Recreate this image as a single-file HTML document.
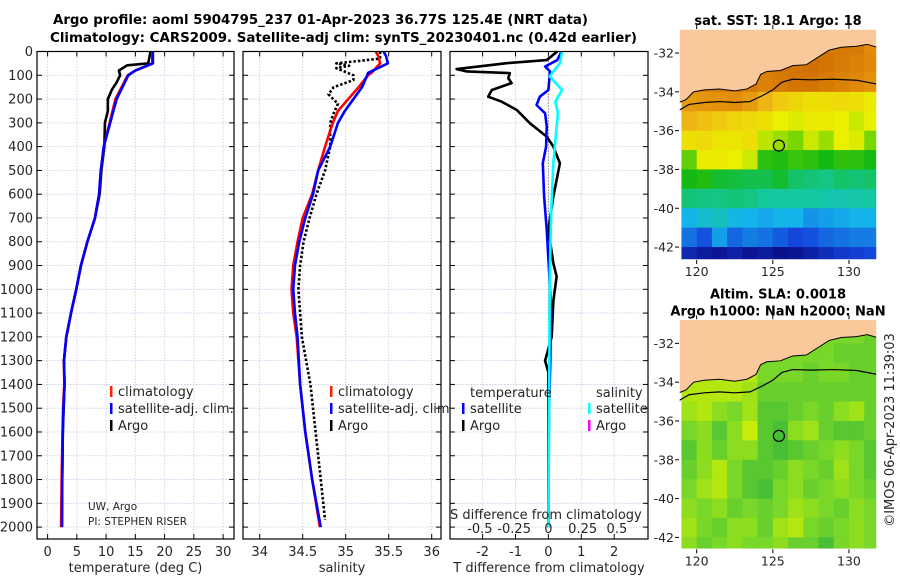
<!DOCTYPE html>
<html><head><meta charset="utf-8"><style>
html,body{margin:0;padding:0;background:#fff;}
svg{display:block;font-family:"DejaVu Sans","Liberation Sans",sans-serif;}
</style></head><body>
<svg id="fig" width="900" height="580" viewBox="0 0 900 580" xmlns="http://www.w3.org/2000/svg">
<g id="titles" font-weight="bold" font-size="13.5" fill="#000">
<text x="53" y="24" textLength="535" lengthAdjust="spacingAndGlyphs">Argo profile: aoml 5904795_237 01-Apr-2023 36.77S 125.4E (NRT data)</text>
<text x="50" y="42" textLength="587" lengthAdjust="spacingAndGlyphs">Climatology: CARS2009. Satellite-adj clim: synTS_20230401.nc (0.42d earlier)</text>
</g>
</svg>
<script>
// ---------- data ----------
const depthGrid = [0,100,200,300,400,500,600,700,800,900,1000,1100,1200,1300,1400,1500,1600,1700,1800,1900,2000];
const tempDepthSat = [0,50,80,100,200,300,400,500,600,700,800,900,1000,1100,1200,1300,1400,1500,1600,1800,2000];
const tempSat = [18.0,18.0,15.0,13.8,11.8,10.7,9.6,9.1,8.8,8.1,6.8,5.7,4.9,4.0,3.2,2.8,2.9,2.7,2.6,2.5,2.45];
const tempClim = [17.9,17.9,15.0,13.7,11.6,10.6,9.6,9.1,8.8,8.1,6.8,5.7,4.9,4.0,3.2,2.8,2.85,2.65,2.55,2.4,2.3];
const tempDepthArgo = [0,50,58,80,100,130,160,200,250,300,400,500,600,700,800,900,1000,1100,1200,1300,1400,1600,1800,2000];
const tempArgo = [17.6,17.2,13.6,12.2,12.4,11.8,11.0,10.3,10.3,9.8,9.7,9.2,8.9,8.1,6.8,5.7,4.9,4.0,3.2,2.8,2.9,2.6,2.5,2.45];
const salDepthSat = [0,20,50,90,100,150,200,250,300,400,500,600,700,800,900,1000,1100,1200,1400,1600,1800,2000];
const salSat = [35.44,35.47,35.49,35.26,35.25,35.19,35.09,34.99,34.91,34.82,34.68,34.62,34.53,34.46,34.41,34.39,34.41,34.44,34.47,34.53,34.61,34.71];
const salClim = [35.35,35.38,35.40,35.30,35.26,35.15,35.03,34.91,34.85,34.76,34.68,34.61,34.50,34.44,34.39,34.37,34.39,34.43,34.47,34.53,34.61,34.70];
const salDepthArgo = [0,30,50,60,70,100,120,150,180,220,260,300,400,500,600,700,800,900,1000,1200,1400,1600,1800,1970];
const salArgo = [35.40,35.40,34.89,35.04,34.89,35.09,35.09,34.86,34.80,34.91,34.86,34.82,34.82,34.76,34.66,34.58,34.51,34.47,34.45,34.49,34.59,34.65,34.71,34.76];
const dDepthSatT = [0,36,63,84,162,190,225,260,315,400,470,610,750,946,1100,1300,1500,1700,2000];
const dTSat = [0.40,0.27,-0.10,0.05,0.0,-0.26,-0.36,-0.10,-0.05,-0.07,-0.17,-0.13,-0.05,0.03,0.08,0.06,0.02,0.01,0.0];
const dDepthSatS = [0,49,84,105,162,211,260,316,470,680,946,1200,1500,2000];
const dSSat = [0.10,0.085,0.036,0.01,0.10,0.05,0.07,0.06,0.036,0.02,0.01,0.008,0.005,0.0];
const dDepthArgoT = [0,36,49,74,84,91,112,133,162,190,211,246,302,358,400,470,540,610,750,890,946,1050,1200,1300,1350,1500,1800,2000];
const dTArgo = [0.27,-0.05,-1.27,-2.79,-2.48,-1.17,-1.22,-1.12,-1.72,-1.83,-1.42,-0.96,-0.56,-0.05,0.15,0.35,0.25,0.15,0.0,0.15,0.25,0.15,0.1,-0.1,0.0,0.0,0.0,0.0];
const depthTicks = [0,100,200,300,400,500,600,700,800,900,1000,1100,1200,1300,1400,1500,1600,1700,1800,1900,2000];
const tempTicks = [0,5,10,15,20,25,30];
const salTicks = [34,34.5,35,35.5,36];
const salTickLabels = ["34","34.5","35","35.5","36"];
const dTTicks = [-2,-1,0,1,2];
const dSTicks = [-0.5,-0.25,0,0.25,0.5];
const dSTickLabels = ["-0.5","-0.25","0","0.25","0.5"];
const mapLatTicks = [-32,-34,-36,-38,-40,-42];
const mapLonTicks = [120,125,130];
const mapLatRows = [-31.5,-32.5,-33.5,-34.5,-35.5,-36.5,-37.5,-38.5,-39.5,-40.5,-41.5,-42.5];
const mapLonCols = [119.5,120.5,121.5,122.5,123.5,124.5,125.5,126.5,127.5,128.5,129.5,130.5,131.5];
const sstGrid = [
[21,21,21,21,21,21,21,21,21,21,21,21,20.5],
[21,21,21,21,21,21.2,21.2,21.2,21.3,21.2,21,20.8,20.6],
[21,21,21,21,21,20.8,21,21.2,21.2,21,20.8,20.6,20.4],
[20.2,20.3,20.4,20.5,20.2,19.6,19.2,19.0,18.8,18.8,18.9,18.8,18.6],
[19.6,19.4,19.2,19.0,18.9,18.8,18.5,18.4,18.6,18.6,18.5,18.3,18.5],
[18.8,18.9,18.7,18.7,18.8,18.2,18.0,17.8,18.3,18.0,18.5,18.4,17.8],
[17.6,18.6,18.6,18.5,18.3,17.2,17.1,17.3,17.2,17.0,17.2,17.2,17.0],
[17.0,17.1,16.8,16.7,16.6,16.6,16.8,16.4,16.3,16.2,16.4,16.3,16.4],
[16.3,16.2,16.2,16.3,16.2,16.0,16.0,16.0,16.0,15.9,15.8,15.9,16.0],
[15.0,15.4,15.6,15.1,15.0,14.9,15.0,15.0,14.7,14.8,14.9,15.0,15.0],
[14.4,14.1,14.8,14.3,14.5,14.4,14.2,14.0,14.1,14.3,14.4,14.5,14.5],
[13.5,13.3,13.2,13.4,13.2,13.3,13.1,13.2,13.4,13.6,13.8,13.9,14.0]];
const slaGrid = [
[0.5,0.5,0.5,0.5,0.5,0.5,0.5,0.5,0.5,0.5,0.5,0.5,0.4],
[0.5,0.5,0.5,0.5,0.5,0.5,0.5,0.5,0.5,0.5,0.4,0.4,0.4],
[0.8,0.8,0.8,0.8,0.8,0.5,0.5,0.5,0.4,0.5,0.5,0.4,0.4],
[0.8,0.8,0.8,0.8,0.7,0.4,0.4,0.4,0.4,0.4,0.4,0.4,0.4],
[0.7,0.8,0.6,0.5,0.7,0.3,0.3,0.4,0.5,0.4,0.6,0.7,0.4],
[0.5,0.6,0.3,0.6,0.9,0.3,0.2,0.6,0.7,0.4,0.3,0.3,0.4],
[0.3,0.6,0.4,0.6,0.6,0.3,0.2,0.3,0.4,0.5,0.6,0.5,0.3],
[0.4,0.6,0.8,0.5,0.3,0.3,0.4,0.6,0.5,0.4,0.7,0.5,0.3],
[0.5,0.7,0.8,0.5,0.3,0.2,0.5,0.6,0.4,0.5,0.6,0.5,0.4],
[0.6,0.5,0.6,0.4,0.5,0.4,0.5,0.7,0.6,0.5,0.4,0.6,0.5],
[0.7,0.5,0.4,0.6,0.6,0.4,0.7,0.8,0.5,0.4,0.5,0.6,0.5],
[0.6,0.4,0.5,0.6,0.5,0.5,0.6,0.4,0.4,0.2,0.5,0.6,0.5]];
const coastLon = [118.84,119.3,119.8,120.5,121.5,122.5,123.3,123.9,124.2,124.6,125.5,126.3,127.2,128.0,128.7,129.5,130.5,131.2,131.84];
const coastLat = [-34.55,-34.4,-34.0,-33.9,-33.85,-33.95,-33.85,-33.6,-33.1,-32.95,-32.9,-32.65,-32.6,-32.2,-31.85,-31.7,-31.65,-31.55,-31.7];
const shelfLon = [118.84,119.5,120.5,121.5,122.5,123.5,124.3,125.0,125.6,126.3,127.5,129.0,130.5,131.84];
const shelfLat = [-34.95,-34.65,-34.55,-34.5,-34.55,-34.5,-34.2,-33.9,-33.5,-33.35,-33.38,-33.35,-33.4,-33.6];
const argoLon = 125.4, argoLat = -36.77;

// ---------- helpers ----------
const NS = "http://www.w3.org/2000/svg";
const svg = document.getElementById('fig');
function mk(tag, attrs, parent){ const e=document.createElementNS(NS,tag); for(const k in attrs) e.setAttribute(k,attrs[k]); (parent||svg).appendChild(e); return e; }
const yD = d => 51.5 + d*0.2378;
const PY0 = 51.5, PY1 = 539;
const xT = t => 47.6 + t*5.85;
const xS = s => 259.7 + (s-34)*86;
const xdT = v => 548.4 + v*32.9;
const xdS = v => 548.4 + v*137;

function panel(name, x0, x1, xticks, xfn, xlabels, xtitle, showY){
  const g = mk('g',{});
  
  
  mk('rect',{x:x0,y:PY0,width:x1-x0,height:PY1-PY0,fill:'#fff'},g);
  depthTicks.forEach(d=>{ const y=yD(d);
    mk('line',{x1:x0,x2:x1,y1:y,y2:y,stroke:'#c4c8e8','stroke-width':0.8,'stroke-dasharray':'1.5,1.5'},g);
    mk('line',{x1:x0,x2:x0+5,y1:y,y2:y,stroke:'#000','stroke-width':1},g);
    mk('line',{x1:x1-5,x2:x1,y1:y,y2:y,stroke:'#000','stroke-width':1},g);
    if(showY){ const t=mk('text',{x:33,y:y+4.5,'text-anchor':'end','font-size':13,fill:'#262626'},g); t.textContent=d;
      
       }
  });
  xticks.forEach((v,i)=>{ const x=xfn(v);
    mk('line',{x1:x,x2:x,y1:PY0,y2:PY1,stroke:'#dcc4d8','stroke-width':0.8,'stroke-dasharray':'1.5,1.5'},g);
    mk('line',{x1:x,x2:x,y1:PY1-5,y2:PY1,stroke:'#000'},g);
    mk('line',{x1:x,x2:x,y1:PY0,y2:PY0+5,stroke:'#000'},g);
    const t=mk('text',{x:x,y:556,'text-anchor':'middle','font-size':13,fill:'#262626'},g); t.textContent=xlabels[i];
    
    
  });
  const tt=mk('text',{x:(x0+x1)/2,y:572,'text-anchor':'middle','font-size':13,fill:'#262626'},g); tt.textContent=xtitle;
  
  
  return g;
}
function line(g, xs, ds, xfn, color, w, name, dash){
  const pts = xs.map((v,i)=>xfn(v).toFixed(2)+','+yD(ds[i]).toFixed(2)).join(' ');
  const p = mk('polyline',{points:pts,fill:'none',stroke:color,'stroke-width':w,'stroke-linejoin':'round'},g);
  if(dash) p.setAttribute('stroke-dasharray',dash);
  
  
  return p;
}
function frame(g,x0,x1){ mk('rect',{x:x0,y:PY0,width:x1-x0,height:PY1-PY0,fill:'none',stroke:'#000','stroke-width':1.2},g); }
function legendEntry(g,x,y,color,label){
  const e = mk('g',{},g);
  
  
  mk('rect',{x:x,y:y-10,width:2.5,height:11,fill:color},e);
  const t=mk('text',{x:x+8,y:y,'font-size':13,fill:'#262626'},e); t.textContent=label;
}

// Panel 1: temperature
const g1 = panel('temperature-panel',37,234,tempTicks,xT,tempTicks.map(String),'temperature (deg C)',true);
line(g1,tempArgo,tempDepthArgo,xT,'#000',2.6,'argo-temperature-line');
line(g1,tempClim,tempDepthSat,xT,'#ff0000',2.6,'climatology-temperature-line');
line(g1,tempSat,tempDepthSat,xT,'#0000ff',2.6,'satellite-temperature-line');
frame(g1,37,234);
legendEntry(g1,110,396,'#ff2000','climatology');
legendEntry(g1,110,413,'#0000ff','satellite-adj. clim.');
legendEntry(g1,110,430,'#000','Argo');
const c1=mk('text',{x:88,y:510,'font-size':10.5,fill:'#262626'},g1); c1.textContent='UW, Argo';
const c2=mk('text',{x:88,y:525,'font-size':10.5,fill:'#262626'},g1); c2.textContent='PI: STEPHEN RISER';

// Panel 2: salinity
const g2 = panel('salinity-panel',243,441,salTicks,xS,salTickLabels,'salinity',false);
line(g2,salArgo,salDepthArgo,xS,'#000',2.6,'argo-salinity-line','2.5,2');
line(g2,salClim,salDepthSat,xS,'#ff0000',2.6,'climatology-salinity-line');
line(g2,salSat,salDepthSat,xS,'#0000ff',2.6,'satellite-salinity-line');
frame(g2,243,441);
legendEntry(g2,330,396,'#ff2000','climatology');
legendEntry(g2,330,413,'#0000ff','satellite-adj. clim.');
legendEntry(g2,330,430,'#000','Argo');

// Panel 3: differences
const g3 = panel('difference-panel',450,648,dTTicks,xdT,dTTicks.map(String),'T difference from climatology',false);
const zl = mk('line',{x1:xdT(0),x2:xdT(0),y1:yD(0),y2:yD(2000),stroke:'#555','stroke-width':1,'stroke-dasharray':'1,2'},g3);
line(g3,dTArgo,dDepthArgoT,xdT,'#000',2.6,'argo-t-difference-line');
line(g3,dTSat,dDepthSatT,xdT,'#0000ff',2.6,'satellite-t-difference-line');
line(g3,dSSat,dDepthSatS,xdS,'#00ffff',2.6,'satellite-s-difference-line');
frame(g3,450,648);
const lt=mk('text',{x:470,y:397,'font-size':13,fill:'#262626'},g3); lt.textContent='temperature';
const ls=mk('text',{x:596,y:397,'font-size':13,fill:'#262626'},g3); ls.textContent='salinity';
legendEntry(g3,462,413,'#0000ff','satellite');
legendEntry(g3,462,430,'#000','Argo');
legendEntry(g3,588,413,'#00ffff','satellite');
legendEntry(g3,588,430,'#ff00ff','Argo');
const sl=mk('text',{x:450,y:519,'font-size':13,fill:'#262626'},g3); sl.textContent='S difference from climatology';


dSTicks.forEach((v,i)=>{ const t=mk('text',{x:xdS(v),y:533,'text-anchor':'middle','font-size':13,fill:'#262626'},g3); t.textContent=dSTickLabels[i];
  
   });

// ---------- maps ----------
function lerpColor(stops, v){
  if(v<=stops[0][0]) return stops[0][1];
  for(let i=1;i<stops.length;i++){ if(v<=stops[i][0]){ const a=stops[i-1],b=stops[i]; const f=(v-a[0])/(b[0]-a[0]);
    const c=[0,1,2].map(k=>Math.round(a[1][k]+(b[1][k]-a[1][k])*f)); return 'rgb('+c.join(',')+')'; } }
  const l=stops[stops.length-1][1]; return 'rgb('+l.join(',')+')';
}
function toRgb(s){ return typeof s==='string'?s:'rgb('+s.join(',')+')'; }
const sstStops=[[13,[10,10,130]],[14,[20,70,220]],[15,[20,180,235]],[16,[20,200,160]],[17,[20,185,20]],[17.8,[120,215,0]],[18.5,[235,240,0]],[19.5,[240,185,20]],[20.5,[225,140,10]],[21.5,[205,105,0]]];
const slaStops=[[0,[40,175,60]],[0.5,[120,215,40]],[1,[220,240,0]]];
function drawMap(name, top, bottom, grid, stops, titleLines){
  const L=679, R=877, lon0=118.84, lon1=131.84;
  const latTop=-30.76, pxDeg=19.4;
  const X = lon => L + (lon-lon0)*(R-L)/(lon1-lon0);
  const Y = lat => top + (latTop-lat)*pxDeg;
  const g = mk('g',{});
  
  
  const cp = mk('clipPath',{id:name+'-clip'},g);
  mk('rect',{x:L,y:top,width:R-L,height:bottom-top},cp);
  const cg = mk('g',{'clip-path':'url(#'+name+'-clip)'},g);
  mk('rect',{x:L,y:top,width:R-L,height:bottom-top,fill:'#fff'},cg);
  grid.forEach((row,r)=>row.forEach((v,c)=>{
    const x=X(mapLonCols[c]-0.5), y=Y(mapLatRows[r]+0.5);
    const cell = mk('rect',{x:x,y:y,width:X(1)-X(0)+0.6,height:pxDeg+0.6,fill:lerpColor(stops,v)},cg);
    
    
  }));
  let pts = coastLon.map((lo,i)=>X(lo)+','+Y(coastLat[i])).join(' ');
  pts += ' '+X(lon1+1)+','+(top-5)+' '+X(lon0-1)+','+(top-5);
  const land = mk('polygon',{points:pts,fill:'#f9c99b',stroke:'#000','stroke-width':1},cg);
  
  
  mk('rect',{x:L-2,y:top,width:R-L+4,height:1.5,fill:'#f9c99b'},cg);
  const shelf = mk('polyline',{points:shelfLon.map((lo,i)=>X(lo)+','+Y(shelfLat[i])).join(' '),fill:'none',stroke:'#000','stroke-width':1.2},cg);
  
  
  const circ = mk('circle',{cx:X(argoLon),cy:Y(argoLat),r:5.5,fill:'none',stroke:'#000','stroke-width':1.2},g);
  
  
  mk('rect',{x:L,y:top,width:R-L,height:bottom-top,fill:'none',stroke:'#fff','stroke-width':1.5},g);
  mapLatTicks.forEach(lat=>{ const y=Y(lat);
    mk('line',{x1:L-4,x2:L,y1:y,y2:y,stroke:'#000'},g);
    const t=mk('text',{x:L-5,y:y+4.5,'text-anchor':'end','font-size':12.5,fill:'#262626'},g); t.textContent=lat;
    
     });
  mapLonTicks.forEach(lon=>{ const x=X(lon);
    mk('line',{x1:x,x2:x,y1:bottom,y2:bottom+4,stroke:'#000'},g);
    mk('line',{x1:x,x2:x,y1:top-4,y2:top,stroke:'#000'},g);
    const t=mk('text',{x:x,y:bottom+16,'text-anchor':'middle','font-size':12.5,fill:'#262626'},g); t.textContent=lon;
    
     });
  titleLines.forEach((s,i)=>{ const t=mk('text',{x:778,y:top-titleLines.length*17+13+i*17,'text-anchor':'middle','font-size':13,'font-weight':'bold',fill:'#000'},g); t.textContent=s;
    
     });
}
drawMap('sst-map',29,260,sstGrid,sstStops,['sat. SST: 18.1 Argo: 18']);
drawMap('sla-map',319.3,549.3,slaGrid,slaStops,['Altim. SLA: 0.0018','Argo h1000: NaN h2000: NaN']);
const cr = mk('text',{x:0,y:0,'font-size':13,fill:'#262626','text-anchor':'middle',transform:'translate(894,430) rotate(-90)'});
cr.textContent='©IMOS 06-Apr-2023 11:39:03';


</script>
</body></html>
